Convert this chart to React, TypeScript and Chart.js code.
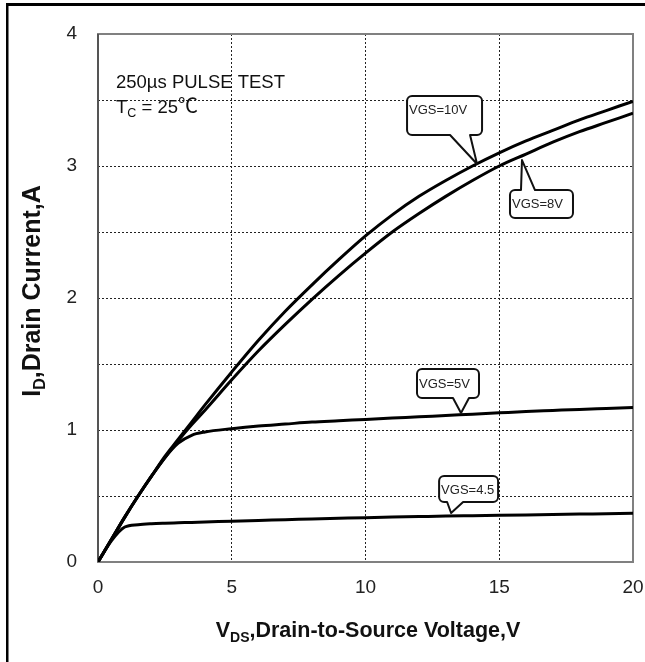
import React, { useEffect, useRef } from 'react';
import { Chart, registerables } from 'chart.js';

Chart.register(...registerables);

// ---- data ----
const vds = [0, 0.5, 1, 1.5, 2, 2.5, 3, 3.5, 4, 5, 6, 7, 8, 9, 10, 11, 12, 13, 14, 15, 16, 17, 18, 19, 20];
const idVgs10 = [0, 0.17, 0.34, 0.5, 0.65, 0.8, 0.93, 1.06, 1.19, 1.44, 1.68, 1.9, 2.1, 2.29, 2.47, 2.63, 2.77, 2.89, 3.0, 3.1, 3.19, 3.27, 3.35, 3.42, 3.49];
const idVgs8 = [0, 0.17, 0.34, 0.5, 0.65, 0.79, 0.92, 1.04, 1.15, 1.38, 1.6, 1.8, 1.99, 2.17, 2.34, 2.5, 2.64, 2.77, 2.89, 3.0, 3.09, 3.18, 3.26, 3.33, 3.4];
const idVgs5 = [0, 0.17, 0.34, 0.5, 0.65, 0.79, 0.9, 0.96, 0.985, 1.01, 1.03, 1.045, 1.06, 1.07, 1.08, 1.09, 1.1, 1.11, 1.12, 1.13, 1.14, 1.148, 1.156, 1.163, 1.17];
const idVgs45 = [0, 0.16, 0.265, 0.283, 0.29, 0.294, 0.297, 0.3, 0.303, 0.309, 0.315, 0.32, 0.326, 0.331, 0.336, 0.34, 0.344, 0.348, 0.351, 0.354, 0.357, 0.36, 0.363, 0.366, 0.369];
const seriesNames = ['VGS=10V', 'VGS=8V', 'VGS=5V', 'VGS=4.5'];
const seriesValues = [idVgs10, idVgs8, idVgs5, idVgs45];
const xTickLabels = ['0', '5', '10', '15', '20'];
const yTickLabels = ['0', '1', '2', '3', '4'];

// callout anchors in data units (tip of the pointer)
const calloutTips = [
  { x: 14.17, y: 3.015 },
  { x: 15.85, y: 3.045 },
  { x: 13.57, y: 1.129 },
  { x: 13.2, y: 0.371 },
];
// callout box geometry relative to the tip (pixels)
const calloutGeom = [
  { bx: -70, by: -68, w: 75, h: 39, side: 'bottom', t1: -27, t2: -7, ty: 18 },
  { bx: -12, by: 30, w: 63, h: 28, side: 'top', t1: -1, t2: 13, ty: 18 },
  { bx: -44, by: -44, w: 62, h: 29, side: 'bottom', t1: -8, t2: 8, ty: 19 },
  { bx: -12, by: -37, w: 59, h: 26, side: 'bottom', t1: -4, t2: 12, ty: 18 },
];

const FONT = '"Liberation Sans", Arial, sans-serif';
const CJK = '"Noto Sans CJK SC", "Liberation Sans", sans-serif';

function calloutPath(ctx: CanvasRenderingContext2D, x: number, y: number, w: number, h: number, r: number,
  side: string, b1: number, b2: number, tx: number, ty: number) {
  ctx.beginPath();
  ctx.moveTo(x + r, y);
  if (side === 'top') { ctx.lineTo(b1, y); ctx.lineTo(tx, ty); ctx.lineTo(b2, y); }
  ctx.lineTo(x + w - r, y);
  ctx.arcTo(x + w, y, x + w, y + r, r);
  ctx.lineTo(x + w, y + h - r);
  ctx.arcTo(x + w, y + h, x + w - r, y + h, r);
  if (side === 'bottom') { ctx.lineTo(b2, y + h); ctx.lineTo(tx, ty); ctx.lineTo(b1, y + h); }
  ctx.lineTo(x + r, y + h);
  ctx.arcTo(x, y + h, x, y + h - r, r);
  ctx.lineTo(x, y + r);
  ctx.arcTo(x, y, x + r, y, r);
  ctx.closePath();
}

type Part = { t: string; size: number; dy?: number; family?: string };
function drawParts(ctx: CanvasRenderingContext2D, parts: Part[], x: number, y: number, bold: boolean, align: 'left' | 'center') {
  const setFont = (p: Part) => { ctx.font = `${bold ? 'bold ' : ''}${p.size}px ${p.family || FONT}`; };
  const w = parts.reduce((s, p) => { setFont(p); return s + ctx.measureText(p.t).width; }, 0);
  let cx = align === 'center' ? x - w / 2 : x;
  ctx.textAlign = 'left';
  ctx.textBaseline = 'alphabetic';
  for (const p of parts) {
    setFont(p);
    ctx.fillText(p.t, cx, y + (p.dy || 0));
    cx += ctx.measureText(p.t).width;
  }
}

const decorPlugin = {
  id: 'decor',
  beforeDatasetsDraw(chart: any) {
    const { ctx, chartArea } = chart;
    ctx.save();
    ctx.strokeStyle = '#808080';
    ctx.lineWidth = 2;
    ctx.strokeRect(chartArea.left, chartArea.top, chartArea.right - chartArea.left, chartArea.bottom - chartArea.top);
    ctx.strokeStyle = '#555';
    ctx.beginPath();
    ctx.moveTo(chartArea.left, chartArea.top);
    ctx.lineTo(chartArea.left, chartArea.bottom);
    ctx.stroke();
    ctx.restore();
  },
  afterDatasetsDraw(chart: any) {
    const { ctx } = chart;
    const xs = chart.scales.x;
    const ys = chart.scales.y;
    ctx.save();
    // page frame (top and left)
    ctx.fillStyle = '#000';
    ctx.fillRect(6, 3, 639, 3);
    ctx.fillRect(6, 3, 2.5, 659);

    // annotation text
    ctx.fillStyle = '#111';
    drawParts(ctx, [{ t: '250µs PULSE TEST', size: 18.5 }], 116, 88, false, 'left');
    drawParts(ctx, [{ t: 'T', size: 18.5 }, { t: 'C', size: 12.5, dy: 4 }, { t: ' = 25', size: 18.5 }, { t: '℃', size: 20, family: CJK }], 116, 113, false, 'left');

    // axis titles
    drawParts(ctx, [{ t: 'V', size: 21.5 }, { t: 'DS', size: 14, dy: 5 }, { t: ',Drain-to-Source Voltage,V', size: 21.5 }], 368, 637, true, 'center');
    ctx.save();
    ctx.translate(40, 291);
    ctx.rotate(-Math.PI / 2);
    drawParts(ctx, [{ t: 'I', size: 25 }, { t: 'D', size: 16, dy: 5 }, { t: ',Drain Current,A', size: 25 }], 0, 0, true, 'center');
    ctx.restore();

    // callouts
    calloutTips.forEach((tip, i) => {
      const g = calloutGeom[i];
      const tx = xs.getPixelForValue(tip.x);
      const ty = ys.getPixelForValue(tip.y);
      const bx = tx + g.bx;
      const by = ty + g.by;
      calloutPath(ctx, bx, by, g.w, g.h, 5, g.side, tx + g.t1, tx + g.t2, tx, ty);
      ctx.fillStyle = '#fff';
      ctx.fill();
      ctx.strokeStyle = '#111';
      ctx.lineWidth = 2;
      ctx.lineJoin = 'round';
      ctx.stroke();
      ctx.fillStyle = '#222';
      ctx.font = `13px ${FONT}`;
      ctx.textAlign = 'left';
      ctx.textBaseline = 'alphabetic';
      ctx.fillText(seriesNames[i], bx + 2, by + g.ty);
    });
    ctx.restore();
  },
};

export default function App() {
  const ref = useRef<HTMLCanvasElement | null>(null);
  useEffect(() => {
    if (!ref.current) return;
    const chart = new Chart(ref.current, {
      type: 'line',
      data: {
        datasets: seriesValues.map((vals, i) => ({
          label: seriesNames[i],
          data: vals.map((v, j) => ({ x: vds[j], y: v })),
          borderColor: '#000',
          borderWidth: 3,
          pointRadius: 0,
          fill: false,
          cubicInterpolationMode: 'monotone' as const,
        })),
      },
      options: {
        animation: false,
        responsive: true,
        maintainAspectRatio: false,
        layout: { padding: { left: 0, top: 34, right: 12, bottom: 0 } },
        plugins: { legend: { display: false }, tooltip: { enabled: false } },
        scales: {
          x: {
            type: 'linear',
            min: 0,
            max: 20,
            afterFit: (s: any) => { s.height = 100; s.paddingLeft = 0; s.paddingRight = 0; },
            afterBuildTicks: (s: any) => { s.ticks = xTickLabels.map((t) => ({ value: Number(t) })); },
            ticks: {
              callback: (v: any) => (xTickLabels.includes(String(v)) ? String(v) : ''),
              font: { size: 19, family: FONT },
              color: '#222',
              padding: 14,
              maxRotation: 0,
              autoSkip: false,
            },
            grid: {
              drawTicks: false,
              lineWidth: 1,
              color: (c: any) => (c.tick && (c.tick.value === 0 || c.tick.value === 20) ? 'rgba(0,0,0,0)' : '#222'),
              borderDash: [2, 2],
            } as any,
            border: { display: false, dash: [2, 2] },
          },
          y: {
            type: 'linear',
            min: 0,
            max: 4,
            afterFit: (s: any) => { s.width = 98; s.paddingTop = 0; s.paddingBottom = 0; },
            ticks: {
              stepSize: 0.5,
              callback: (v: any) => (yTickLabels.includes(String(v)) ? String(v) : ''),
              font: { size: 19, family: FONT },
              color: '#222',
              padding: 21,
              autoSkip: false,
            },
            grid: {
              drawTicks: false,
              lineWidth: 1,
              color: (c: any) => (c.tick && (c.tick.value === 0 || c.tick.value === 4) ? 'rgba(0,0,0,0)' : '#222'),
              borderDash: [2, 2],
            } as any,
            border: { display: false, dash: [2, 2] },
          },
        },
      },
      plugins: [decorPlugin],
    });
    return () => chart.destroy();
  }, []);
  return (
    <div style={{ position: 'absolute', left: 0, top: 0, width: 645, height: 662, background: '#fff' }}>
      <canvas ref={ref} />
    </div>
  );
}
